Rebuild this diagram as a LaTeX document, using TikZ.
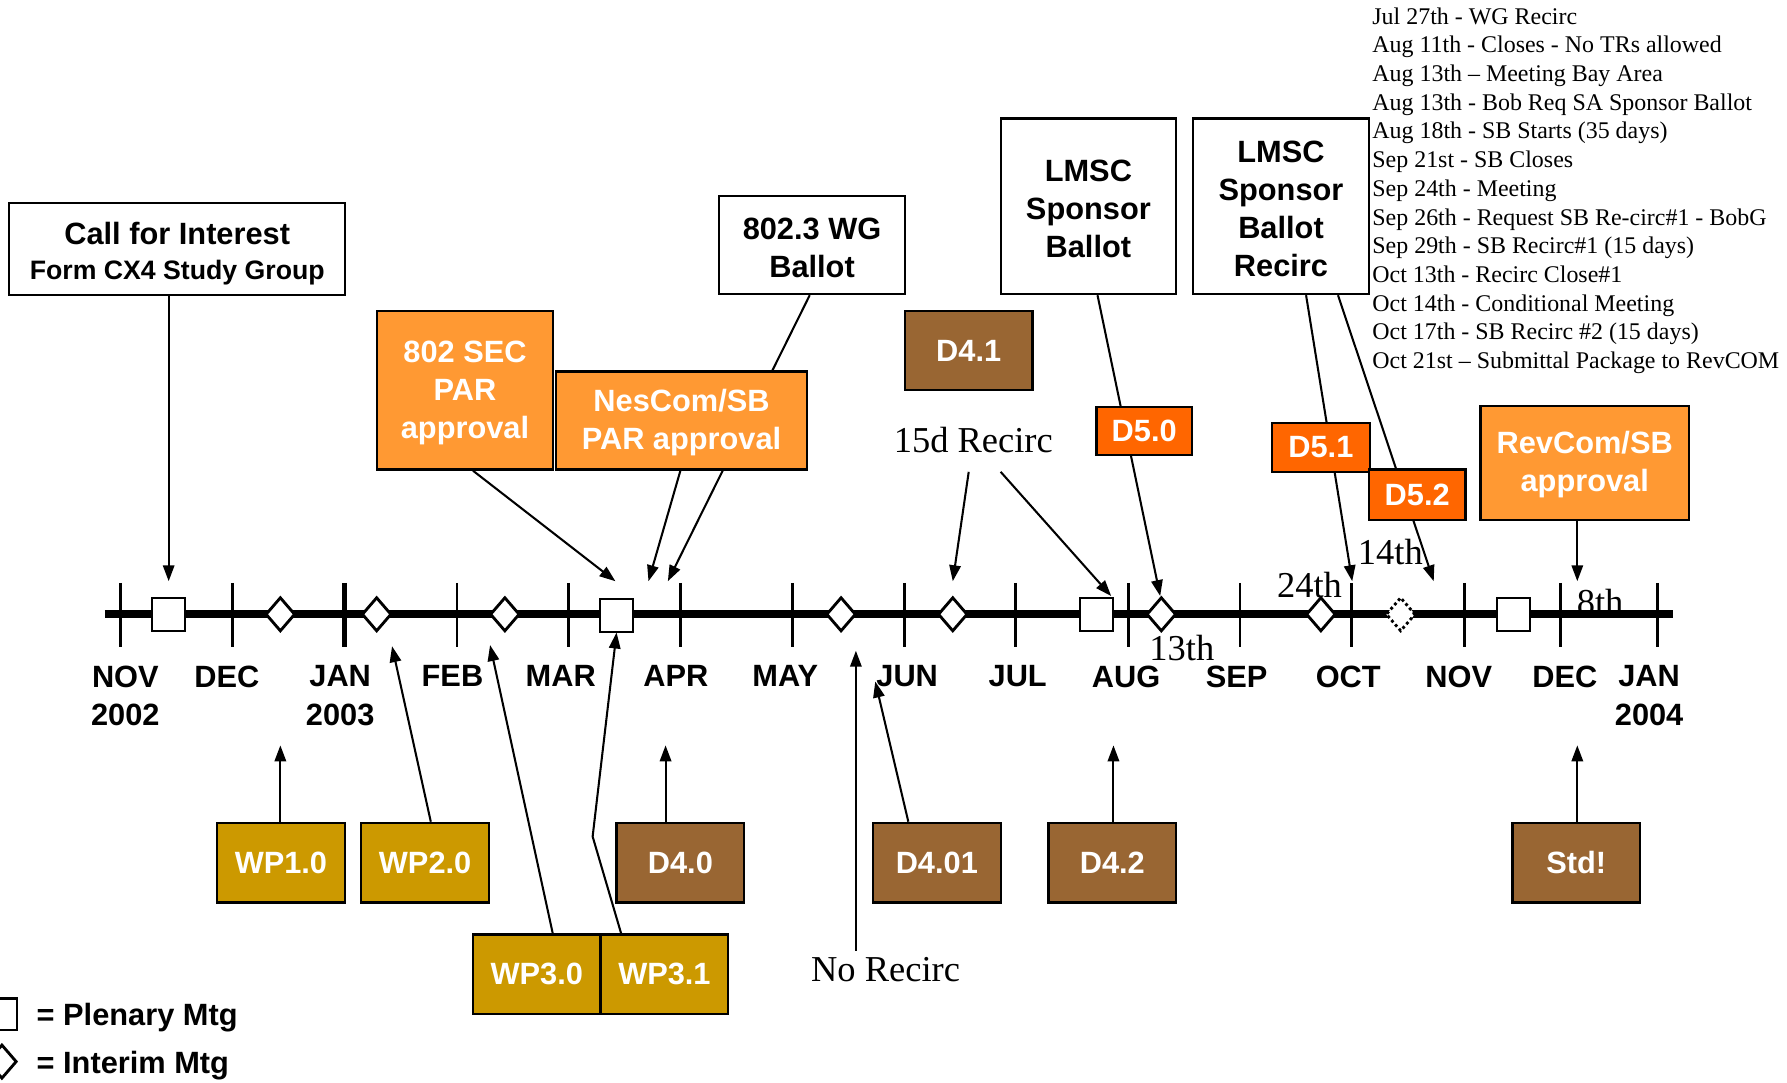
\documentclass[tikz,border=0pt]{standalone}
\usepackage{fontspec}
\setmainfont{Liberation Sans}
\newfontfamily\serifF{Liberation Serif}
\usetikzlibrary{shapes.geometric,arrows.meta}
\pgfdeclarelayer{bg}
\pgfsetlayers{bg,main}
\definecolor{orangeA}{HTML}{FF9933}
\definecolor{redO}{HTML}{FF6600}
\definecolor{brownA}{HTML}{996633}
\definecolor{goldA}{HTML}{CC9900}
\begin{document}
\begin{tikzpicture}[x=1pt,y=-1pt,
  box/.style={draw=black,line width=2pt,inner sep=0pt,align=center,font=\bfseries\fontsize{27}{33.5}\selectfont},
  wbox/.style={box,fill=white},
  obox/.style={box,fill=orangeA,text=white},
  rbox/.style={box,fill=redO,text=white},
  brbox/.style={box,fill=brownA,text=white,minimum width=112pt,minimum height=70pt},
  gbox/.style={box,fill=goldA,text=white,minimum width=112pt,minimum height=70pt},
  plen/.style={draw,fill=white,line width=2pt,minimum width=29pt,minimum height=29pt,inner sep=0pt},
  intm/.style={diamond,draw,fill=white,line width=2.5pt,minimum width=26pt,minimum height=30pt,inner sep=0pt},
  conn/.style={line width=1.8pt},
  arr/.style={conn,-{Triangle[length=14pt,width=10pt]}},
  mon/.style={font=\bfseries\fontsize{27}{33.5}\selectfont,align=center,inner sep=0pt,anchor=north},
  tml/.style={font=\serifF\fontsize{32}{36}\selectfont,inner sep=0pt},
  tickln/.style={line width=2.5pt}
]
\useasboundingbox (0,0) rectangle (1568,950);
\begin{pgfonlayer}{bg}
  \fill[white] (0,0) rectangle (1568,950);
\end{pgfonlayer}
\clip (0,0) rectangle (1568,950);

% day labels (behind the timeline)
\node[tml] (th13) at (1037,569) {13th};
\node[tml] (th24) at (1149,513) {24th};
\node[tml] (th14) at (1220,484) {14th};
\node[tml] (th8)  at (1404,528) {8th};

% timeline
\draw[line width=7pt] (92,539) -- (1468,539);
\foreach \x in {106,204,401,499,597,695,794,891,990,1088,1186,1285,1369,1454}
  \draw[tickln] (\x,511.5) -- (\x,567.5);
\draw[line width=4.5pt] (302,511.5) -- (302,567.5);

% meetings
\node[plen] (pl1) at (148,539) {};
\node[plen] (pl2) at (541,540) {};
\node[plen] (pl3) at (962,539) {};
\node[plen] (pl4) at (1328,539) {};
\node[intm] (im1) at (246,539) {};
\node[intm] (im2) at (330.5,539) {};
\node[intm] (im3) at (443,539) {};
\node[intm] (im4) at (738,539) {};
\node[intm] (im5) at (836,539) {};
\node[intm] (im6) at (1019,539) {};
\node[intm] (im7) at (1159,539) {};
\node[intm,dash pattern=on 2.5pt off 2.5pt] (im8) at (1229,539) {};

% month labels
\node[mon] (m1) at (110,584) {NOV\\2002};
\node[mon] (m2) at (199,584) {DEC};
\node[mon] (m3) at (298.5,584) {JAN\\2003};
\node[mon] (m4) at (397,584) {FEB};
\node[mon] (m5) at (492,584) {MAR};
\node[mon] (m6) at (593,584) {APR};
\node[mon] (m7) at (689,584) {MAY};
\node[mon] (m8) at (796,584) {JUN};
\node[mon] (m9) at (893,584) {JUL};
\node[mon] (m10) at (988,584) {AUG};
\node[mon] (m11) at (1085,584) {SEP};
\node[mon] (m12) at (1183,584) {OCT};
\node[mon] (m13) at (1280,584) {NOV};
\node[mon] (m14) at (1373,584) {DEC};
\node[mon] (m15) at (1447,584) {JAN\\2004};

% upper boxes
\node[wbox,minimum width=295pt,minimum height=81pt] (cfi) at (155.5,218.5)
  {\rule{0pt}{27.5pt}Call for Interest\\[-3pt]{\fontsize{23.4}{28}\selectfont Form CX4 Study Group}};
\node[wbox,minimum width=163pt,minimum height=86pt] (wg) at (712.5,215) {\rule{0pt}{23.5pt}802.3 WG\\Ballot};
\node[obox,minimum width=154pt,minimum height=139pt] (sec) at (408,342.5) {\rule{0pt}{23.5pt}802 SEC\\PAR\\approval};
\node[obox,minimum width=220pt,minimum height=86pt] (nes) at (598,369) {\rule{0pt}{23.5pt}NesCom/SB\\PAR approval};
\node[brbox,minimum height=69pt] (d41) at (850,307.5) {D4.1};
\node[wbox,minimum width=154pt,minimum height=154pt] (lsb) at (955,181) {\rule{0pt}{23.5pt}LMSC\\Sponsor\\Ballot};
\node[wbox,minimum width=154pt,minimum height=154pt] (lsbr) at (1124,181) {\rule{0pt}{23.5pt}LMSC\\Sponsor\\Ballot\\Recirc};
\node[rbox,minimum width=84pt,minimum height=42pt] (d50) at (1004,378) {D5.0};
\node[rbox,minimum width=86pt,minimum height=43pt] (d51) at (1159,392.5) {D5.1};
\node[rbox,minimum width=85pt,minimum height=44pt] (d52) at (1243.5,434) {D5.2};
\node[obox,minimum width=183pt,minimum height=100pt] (rev) at (1390.5,406) {\rule{0pt}{23.5pt}RevCom/SB\\approval};
\node[tml] (rc15) at (854,386) {15d Recirc};

% lower boxes
\node[gbox] (wp1) at (246.5,757) {WP1.0};
\node[gbox] (wp2) at (373,757) {WP2.0};
\node[gbox] (wp30) at (471,855) {WP3.0};
\node[gbox] (wp31) at (583,855) {WP3.1};
\node[brbox] (d40) at (597,757) {D4.0};
\node[brbox] (d401) at (822,757) {D4.01};
\node[brbox] (d42) at (976,757) {D4.2};
\node[brbox] (std) at (1383,757) {Std!};
\node[tml] (norc) at (777,851) {No Recirc};

% legend
\node[plen,minimum width=28pt,minimum height=28pt] (lgp) at (1,890) {};
\node[anchor=west,inner sep=0pt,font=\bfseries\fontsize{27}{33}\selectfont] (lgpt) at (32,893) {= Plenary Mtg};
\node[intm] (lgi) at (1.7,931.5) {};
\node[anchor=west,inner sep=0pt,font=\bfseries\fontsize{27}{33}\selectfont] (lgit) at (32,935) {= Interim Mtg};

% schedule list
\node[anchor=north west,inner sep=0pt,align=left,font=\serifF\fontsize{21}{25.17}\selectfont] (sched) at (1204,6.5)
 {Jul 27th - WG Recirc\\
  Aug 11th - Closes - No TRs allowed\\
  Aug 13th – Meeting Bay Area\\
  Aug 13th - Bob Req SA Sponsor Ballot\\
  Aug 18th - SB Starts (35 days)\\
  Sep 21st - SB Closes\\
  Sep 24th - Meeting\\
  Sep 26th - Request SB Re-circ\#1 - BobG\\
  Sep 29th - SB Recirc\#1 (15 days)\\
  Oct 13th - Recirc Close\#1\\
  Oct 14th - Conditional Meeting\\
  Oct 17th - SB Recirc \#2 (15 days)\\
  Oct 21st – Submittal Package to RevCOM};

% arrow end points
\coordinate (e1) at (148,510);
\coordinate (e2) at (540,510);
\coordinate (e3) at (569,510);
\coordinate (e4) at (586,510);
\coordinate (e5) at (836,510);
\coordinate (e6) at (975,523);
\coordinate (e7) at (1018,523);
\coordinate (e8) at (1186.5,510);
\coordinate (e9) at (1258,510);
\coordinate (e10) at (1384,510);
\coordinate (e11) at (246,654);
\coordinate (e12) at (344,567);
\coordinate (e13) at (430,566);
\coordinate (e14) at (541,555);
\coordinate (b14) at (520,734);
\coordinate (e15) at (584,654);
\coordinate (e16) at (768,598);
\coordinate (e17) at (751,571);
\coordinate (e18) at (977,654);
\coordinate (e19) at (1384,654);

\begin{pgfonlayer}{bg}
  \draw[arr] (cfi.south -| e1) -- (e1);
  \draw[arr] ([xshift=7pt]sec.south) -- (e2);
  \draw[arr] ([xshift=-1pt]nes.south) -- (e3);
  \draw[arr] ([xshift=-2pt]wg.south) -- (e4);
  \draw[arr] ([shift={(-4,28)}]rc15.center) -- (e5);
  \draw[arr] ([shift={(24,28)}]rc15.center) -- (e6);
  \draw[arr] ([xshift=8pt]lsb.south) -- (e7);
  \draw[arr] ([xshift=22pt]lsbr.south) -- (e8);
  \draw[arr] ([xshift=50pt]lsbr.south) -- (e9);
  \draw[arr] (rev.south -| e10) -- (e10);
  \draw[arr] (wp1.north -| e11) -- (e11);
  \draw[arr] ([xshift=5pt]wp2.north) -- (e12);
  \draw[arr] ([xshift=14pt]wp30.north) -- (e13);
  \draw[arr] ([xshift=-38pt]wp31.north) -- (b14) -- (e14);
  \draw[arr] (d40.north -| e15) -- (e15);
  \draw[arr] ([xshift=-25pt]d401.north) -- (e16);
  \draw[arr] ([yshift=6pt]norc.north -| e17) -- (e17);
  \draw[arr] (d42.north -| e18) -- (e18);
  \draw[arr] (std.north -| e19) -- (e19);
\end{pgfonlayer}
\end{tikzpicture}
\end{document}
